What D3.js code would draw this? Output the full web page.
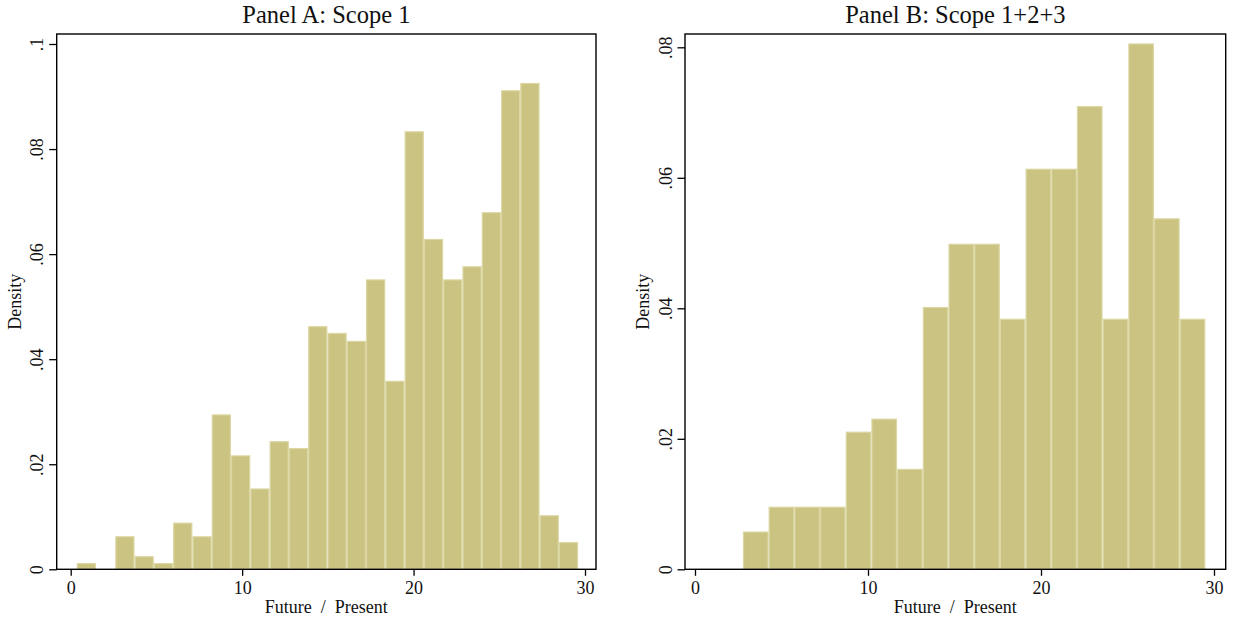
<!DOCTYPE html>
<html>
<head>
<meta charset="utf-8">
<script src="https://cdn.jsdelivr.net/npm/d3@7"></script>
<style>
  html, body { margin: 0; padding: 0; background: #ffffff; }
  svg { display: block; }
  text { font-family: "Liberation Serif", "Times New Roman", serif; fill: #111; }
</style>
</head>
<body>
<svg id="chart" width="1233" height="621"></svg>
<script>
// Histogram of Future / Present, Scope 1 emitters
const scope1BinStart = 0.35;
const scope1BinWidth = 1.125;
const scope1Density = [
  0.0012, 0.0, 0.0063, 0.0025, 0.0012, 0.0089, 0.0063, 0.0295, 0.0217,
  0.0154, 0.0244, 0.0231, 0.0463, 0.0450, 0.0435, 0.0552, 0.0359, 0.0834,
  0.0629, 0.0552, 0.0577, 0.0680, 0.0912, 0.0926, 0.0103, 0.0052
];
const scope1YTicks = [0, 0.02, 0.04, 0.06, 0.08, 0.1];
const scope1YLabels = ["0", ".02", ".04", ".06", ".08", ".1"];

// Histogram of Future / Present, Scope 1+2+3 emitters
const scope123BinStart = 2.77;
const scope123BinWidth = 1.485;
const scope123Density = [
  0.0058, 0.0096, 0.0096, 0.0096, 0.0211, 0.0231, 0.0154, 0.0402, 0.0499,
  0.0499, 0.0384, 0.0614, 0.0614, 0.0710, 0.0384, 0.0806, 0.0538, 0.0384
];
const scope123YTicks = [0, 0.02, 0.04, 0.06, 0.08];
const scope123YLabels = ["0", ".02", ".04", ".06", ".08"];

const xTicks = [0, 10, 20, 30];
const xLabels = ["0", "10", "20", "30"];

const panels = [
  {
    title: "Panel A: Scope 1",
    start: scope1BinStart, width: scope1BinWidth, density: scope1Density,
    yTicks: scope1YTicks, yLabels: scope1YLabels, yMax: 0.1,
    frame: { left: 56.7, right: 596, top: 34, bottom: 569.3 },
    xRange: [70.7, 585], yTopPx: 44
  },
  {
    title: "Panel B: Scope 1+2+3",
    start: scope123BinStart, width: scope123BinWidth, density: scope123Density,
    yTicks: scope123YTicks, yLabels: scope123YLabels, yMax: 0.08,
    frame: { left: 685, right: 1225.7, top: 34, bottom: 569.3 },
    xRange: [695, 1214], yTopPx: 47.3
  }
];

const svg = d3.select("#chart");
const barFill = "#cbc381";
const barEdge = "#dbd6a2";
const axisFont = 18;

panels.forEach(p => {
  const f = p.frame;
  const x = d3.scaleLinear().domain([0, 30]).range(p.xRange);
  const y = d3.scaleLinear().domain([0, p.yMax]).range([f.bottom, p.yTopPx]);
  const g = svg.append("g");

  const bins = p.density.map((d, i) => ({
    x0: p.start + i * p.width,
    x1: p.start + (i + 1) * p.width,
    d
  }));

  // bars
  g.selectAll("rect.bar")
    .data(bins.filter(b => b.d > 0))
    .join("rect")
    .attr("class", "bar")
    .attr("x", b => x(b.x0) + 0.6)
    .attr("width", b => x(b.x1) - x(b.x0) - 1.2)
    .attr("y", b => y(b.d) + 0.6)
    .attr("height", b => y(0) - y(b.d) - 0.6)
    .attr("fill", barFill)
    .attr("stroke", barEdge)
    .attr("stroke-width", 1.2);

  // plot region outline
  g.append("rect")
    .attr("x", f.left).attr("y", f.top)
    .attr("width", f.right - f.left).attr("height", f.bottom - f.top)
    .attr("fill", "none").attr("stroke", "#000").attr("stroke-width", 1.4);

  // y axis
  const yAxis = d3.axisLeft(y)
    .tickValues(p.yTicks)
    .tickFormat((d, i) => p.yLabels[i])
    .tickSize(7.5)
    .tickSizeOuter(0);
  const ya = g.append("g").attr("transform", `translate(${f.left},0)`).call(yAxis);
  ya.select(".domain").remove();
  ya.selectAll(".tick line").attr("stroke", "#000").attr("stroke-width", 1.3);
  ya.selectAll(".tick text")
    .attr("transform", "rotate(-90)")
    .attr("x", 0).attr("y", -13.5).attr("dy", 0)
    .attr("text-anchor", "middle")
    .style("font-family", "Liberation Serif")
    .style("font-size", axisFont + "px")
    .attr("fill", "#111");

  // x axis
  const xAxis = d3.axisBottom(x)
    .tickValues(xTicks)
    .tickFormat((d, i) => xLabels[i])
    .tickSize(6.5)
    .tickSizeOuter(0);
  const xa = g.append("g").attr("transform", `translate(0,${f.bottom})`).call(xAxis);
  xa.select(".domain").remove();
  xa.selectAll(".tick line").attr("stroke", "#000").attr("stroke-width", 1.3);
  xa.selectAll(".tick text")
    .attr("y", 25).attr("dy", 0)
    .style("font-family", "Liberation Serif")
    .style("font-size", axisFont + "px")
    .attr("fill", "#111");

  // axis titles
  g.append("text")
    .attr("x", (f.left + f.right) / 2).attr("y", 613)
    .attr("text-anchor", "middle")
    .style("font-size", axisFont + "px")
    .style("white-space", "pre")
    .text("Future  /  Present");

  g.append("text")
    .attr("transform", `translate(${f.left - 36},${(f.top + f.bottom) / 2}) rotate(-90)`)
    .attr("text-anchor", "middle")
    .style("font-size", axisFont + "px")
    .text("Density");

  // panel title
  g.append("text")
    .attr("x", (f.left + f.right) / 2).attr("y", 23)
    .attr("text-anchor", "middle")
    .style("font-size", "24.5px")
    .text(p.title);
});
</script>
</body>
</html>
